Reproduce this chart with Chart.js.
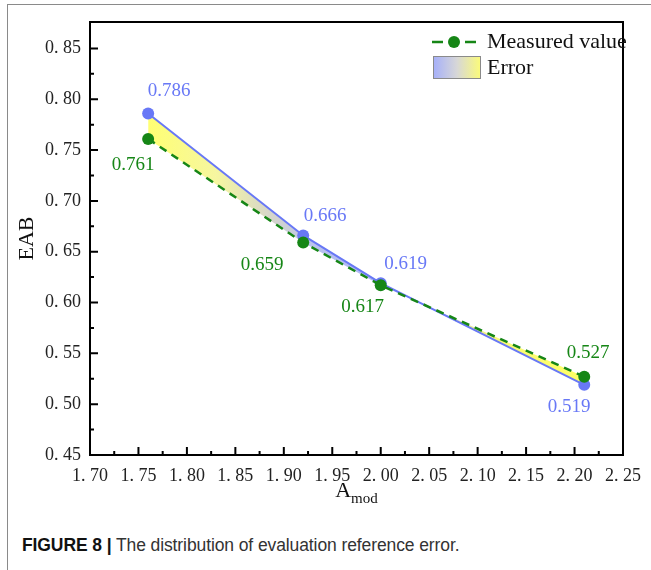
<!DOCTYPE html>
<html><head><meta charset="utf-8">
<script src="https://cdn.jsdelivr.net/npm/chart.js@4.4.1/dist/chart.umd.min.js"></script>
<style>
html,body{margin:0;padding:0;background:#fff;}
#page{position:relative;width:651px;height:570px;overflow:hidden;background:#fff;}
#frame{position:absolute;left:7px;top:4px;right:-5px;bottom:-5px;border-left:1.5px solid #8a8a8a;border-top:1.5px solid #8a8a8a;}
#wrap{position:absolute;left:0;top:0;width:651px;height:520px;}
#caption{position:absolute;left:22px;top:535px;font-family:"Liberation Sans",Arial,sans-serif;font-size:17.5px;color:#333;white-space:nowrap;letter-spacing:-0.1px;}
#caption b{color:#111;}
</style></head><body>
<div id="page"><div id="frame"></div><div id="wrap"><canvas id="c"></canvas></div>
<div id="caption"><b>FIGURE 8 |</b> The distribution of evaluation reference error.</div></div>
<script>
// ---- data ----
const amod = [1.76, 1.92, 2.00, 2.21];
const measured = [0.761, 0.659, 0.617, 0.527];
const predicted = [0.786, 0.666, 0.619, 0.519];
const xTicks = [1.70, 1.75, 1.80, 1.85, 1.90, 1.95, 2.00, 2.05, 2.10, 2.15, 2.20, 2.25];
const yTicks = [0.45, 0.50, 0.55, 0.60, 0.65, 0.70, 0.75, 0.80, 0.85];
const legendLabels = ['Measured value', 'Error'];

// ---- styles ----
const BLUE = 'rgb(104,120,246)';
const GREEN = 'rgb(22,134,22)';
const SERIF = '"Liberation Serif","Times New Roman",serif';
const gradStops = [[1.76,'rgb(255,255,115)'],[1.83,'rgb(246,246,160)'],[1.89,'rgb(212,212,205)'],[1.93,'rgb(186,194,238)'],[2.00,'rgb(172,182,246)'],[2.07,'rgb(215,218,190)'],[2.12,'rgb(250,250,120)'],[2.21,'rgb(255,255,100)']];
const measOffsets = [[-15,26],[-41,22],[-18,22],[4,-24]];
const predOffsets = [[21,-22],[22,-19],[25,-19],[-15,22]];

function fillGradient(ctx){
  const chart = ctx.chart, ca = chart.chartArea;
  if(!ca) return 'rgba(0,0,0,0)';
  const xs = chart.scales.x;
  const x0 = xs.getPixelForValue(amod[0]), x1 = xs.getPixelForValue(amod[amod.length-1]);
  const g = chart.ctx.createLinearGradient(x0,0,x1,0);
  gradStops.forEach(([v,c])=>{
    const t = (xs.getPixelForValue(v)-x0)/(x1-x0);
    g.addColorStop(Math.min(1,Math.max(0,t)), c);
  });
  return g;
}

const boxTicks = {
  id:'boxTicks',
  afterDraw(chart){
    const {ctx, chartArea:ca, scales:{x,y}} = chart;
    ctx.save();
    ctx.strokeStyle = '#000'; ctx.lineWidth = 2;
    ctx.strokeRect(ca.left, ca.top, ca.right-ca.left, ca.bottom-ca.top);
    ctx.lineWidth = 2;
    ctx.beginPath();
    for(let i=0;i<xTicks.length;i++){
      const px = x.getPixelForValue(xTicks[i]);
      ctx.moveTo(px, ca.bottom); ctx.lineTo(px, ca.bottom-8);
      if(i<xTicks.length-1){
        const pm = x.getPixelForValue((xTicks[i]+xTicks[i+1])/2);
        ctx.moveTo(pm, ca.bottom); ctx.lineTo(pm, ca.bottom-4);
      }
    }
    for(let i=0;i<yTicks.length;i++){
      const py = y.getPixelForValue(yTicks[i]);
      ctx.moveTo(ca.left, py); ctx.lineTo(ca.left+8, py);
      const pm = y.getPixelForValue(yTicks[i]+0.025);
      if(pm > ca.top+2){ ctx.moveTo(ca.left, pm); ctx.lineTo(ca.left+4, pm); }
    }
    ctx.stroke();
    // x-axis title with subscript
    const cx = (ca.left+ca.right)/2;
    ctx.fillStyle = '#111';
    ctx.textBaseline = 'alphabetic';
    ctx.font = '22px '+SERIF;
    const wA = ctx.measureText('A').width;
    ctx.font = '15px '+SERIF;
    const wM = ctx.measureText('mod').width;
    const sx = cx - (wA+wM)/2;
    ctx.font = '22px '+SERIF; ctx.textAlign='left';
    ctx.fillText('A', sx, 497);
    ctx.font = '15px '+SERIF;
    ctx.fillText('mod', sx+wA, 503);
    ctx.restore();
  }
};

const valueLabels = {
  id:'valueLabels',
  afterDatasetsDraw(chart){
    const {ctx, scales:{x,y}} = chart;
    ctx.save();
    ctx.font = '19px '+SERIF;
    ctx.textAlign='center'; ctx.textBaseline='middle';
    amod.forEach((a,i)=>{
      ctx.fillStyle = BLUE;
      ctx.fillText(predicted[i].toFixed(3), x.getPixelForValue(a)+predOffsets[i][0], y.getPixelForValue(predicted[i])+predOffsets[i][1]);
      ctx.fillStyle = GREEN;
      ctx.fillText(measured[i].toFixed(3), x.getPixelForValue(a)+measOffsets[i][0], y.getPixelForValue(measured[i])+measOffsets[i][1]);
    });
    ctx.restore();
  }
};

const customLegend = {
  id:'customLegend',
  afterDraw(chart){
    const ctx = chart.ctx;
    ctx.save();
    ctx.strokeStyle = GREEN; ctx.lineWidth = 2.5;
    ctx.beginPath();
    ctx.moveTo(432,42); ctx.lineTo(443,42);
    ctx.moveTo(465,42); ctx.lineTo(476,42);
    ctx.stroke();
    ctx.fillStyle = GREEN;
    ctx.beginPath(); ctx.arc(454,42,6,0,Math.PI*2); ctx.fill();
    const g = ctx.createLinearGradient(433,0,481,0);
    g.addColorStop(0,'rgb(165,175,250)'); g.addColorStop(0.5,'rgb(215,215,215)'); g.addColorStop(1,'rgb(252,252,120)');
    ctx.fillStyle = g; ctx.fillRect(433,56,48,23);
    ctx.strokeStyle = '#8a8a8a'; ctx.lineWidth = 1; ctx.strokeRect(433.5,56.5,47,22);
    ctx.fillStyle = '#111'; ctx.font = '22px '+SERIF;
    ctx.textAlign='left'; ctx.textBaseline='middle';
    ctx.fillText(legendLabels[0], 487, 42);
    ctx.fillText(legendLabels[1], 487, 68);
    ctx.restore();
  }
};

const tickFmt = v => v.toFixed(2).replace('.', '. ');

new Chart(document.getElementById('c'), {
  type:'line',
  data:{
    datasets:[
      {
        label: legendLabels[0],
        data: amod.map((a,i)=>({x:a, y:measured[i]})),
        borderColor: GREEN, backgroundColor: GREEN,
        borderWidth: 2.5, borderDash:[8,6],
        pointRadius: 6, pointHoverRadius:6, pointBackgroundColor: GREEN, pointBorderWidth:0,
        fill:false, tension:0
      },
      {
        label: 'Predicted',
        data: amod.map((a,i)=>({x:a, y:predicted[i]})),
        borderColor: BLUE, backgroundColor: fillGradient,
        borderWidth: 2,
        pointRadius: 6, pointHoverRadius:6, pointBackgroundColor: BLUE, pointBorderWidth:0,
        fill:'-1', tension:0
      }
    ]
  },
  options:{
    responsive:true, maintainAspectRatio:false, animation:false,
    layout:{padding:{left:8, right:22, top:22, bottom:0}},
    plugins:{legend:{display:false}, tooltip:{enabled:false}},
    scales:{
      x:{
        type:'linear', min:1.70, max:2.25,
        afterBuildTicks: s => { s.ticks = xTicks.map(v=>({value:v})); },
        afterFit: s => { s.height = 65; },
        grid:{display:false, drawTicks:false},
        border:{display:false},
        ticks:{callback: tickFmt, padding: 10, maxRotation:0, autoSkip:false, color:'#222', font:{family:SERIF, size:18}}
      },
      y:{
        type:'linear', min:0.45, max:0.876,
        afterBuildTicks: s => { s.ticks = yTicks.map(v=>({value:v})); },
        afterFit: s => { s.width = 82; },
        grid:{display:false, drawTicks:false},
        border:{display:false},
        title:{display:true, text:'EAB', color:'#111', font:{family:SERIF, size:22}, padding:{top:6,bottom:0}},
        ticks:{callback: tickFmt, padding: 9, color:'#222', font:{family:SERIF, size:18}}
      }
    }
  },
  plugins:[boxTicks, valueLabels, customLegend]
});
</script>
</body></html>
